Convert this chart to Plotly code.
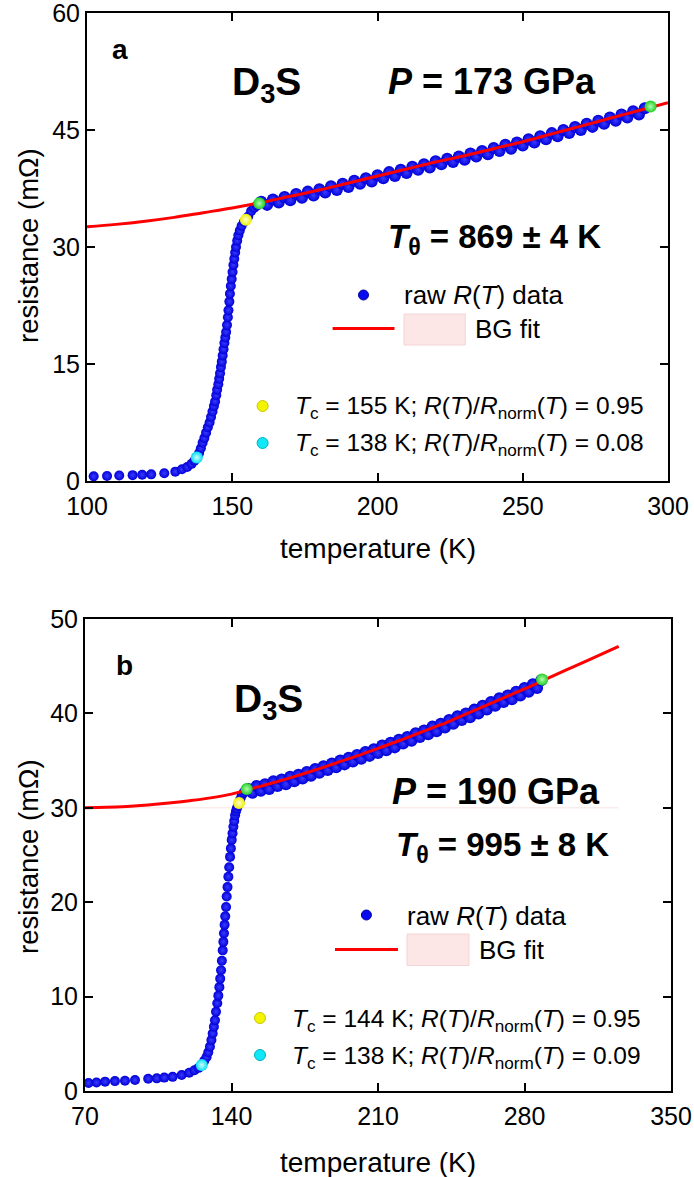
import plotly.graph_objects as go

W, H = 694, 1177
FONT = "Liberation Sans, Arial, sans-serif"

# ---------------- Panel a data (P = 173 GPa) ----------------
# low-temperature tail and superconducting transition
a_T = [102.3, 106.9, 111.1, 115.7, 119.0, 122.1, 126.6, 130.4, 132.7, 134.5, 136.0, 137.0,
       138.6, 139.2, 139.8, 140.4, 141.0, 141.6, 142.2, 142.7, 143.2, 143.7, 144.1, 144.5,
       144.8, 145.2, 145.5, 145.8, 146.1, 146.4, 146.7, 147.0, 147.3, 147.6, 147.9, 148.2,
       148.5, 148.7, 149.0, 149.2, 149.5, 149.8, 150.1, 150.4, 150.7, 151.0, 151.3, 151.7,
       152.1, 152.6, 153.2, 154.0, 155.5, 156.5, 157.5, 158.5]
a_R = [0.6, 0.65, 0.7, 0.75, 0.8, 0.85, 1.0, 1.2, 1.5, 1.8, 2.2, 2.6,
       3.6, 4.2, 4.9, 5.5, 6.2, 6.9, 7.5, 8.2, 8.9, 9.6, 10.2, 11.0,
       11.7, 12.4, 13.1, 13.8, 14.6, 15.3, 16.1, 16.9, 17.7, 18.4, 19.1, 20.0,
       21.0, 21.9, 23.0, 24.0, 25.0, 25.9, 26.8, 27.7, 28.5, 29.3, 30.0, 30.8,
       31.5, 32.1, 32.7, 33.2, 33.9, 34.6, 35.0, 35.3]
# normal state
a_norm_T = [160, 162, 164, 166, 168, 170, 172, 174, 176, 178, 180, 182, 184, 186, 188, 190,
            192, 194, 196, 198, 200, 202, 204, 206, 208, 210, 212, 214, 216, 218, 220, 222,
            224, 226, 228, 230, 232, 234, 236, 238, 240, 242, 244, 246, 248, 250, 252, 254,
            256, 258, 260, 262, 264, 266, 268, 270, 272, 274, 276, 278, 280, 282, 284, 286,
            288, 290, 292]
a_norm_R = [35.8, 35.4, 36.1, 35.7, 36.4, 36.0, 36.8, 36.3, 37.1, 36.6, 37.4, 37.0, 37.8, 37.3,
            38.1, 37.7, 38.5, 38.1, 38.8, 38.4, 39.2, 38.8, 39.6, 39.1, 39.9, 39.5, 40.3, 39.9,
            40.6, 40.2, 41.0, 40.6, 41.3, 40.9, 41.6, 41.2, 42.0, 41.6, 42.3, 41.9, 42.7, 42.3,
            43.1, 42.6, 43.4, 43.0, 43.8, 43.4, 44.2, 43.8, 44.6, 44.2, 45.0, 44.6, 45.4, 45.0,
            45.8, 45.4, 46.2, 45.8, 46.6, 46.2, 47.0, 46.6, 47.4, 47.0, 47.8]
a_fit_T = [100, 110, 120, 130, 140, 150, 160, 170, 180, 190, 200, 210, 220, 230, 240, 250,
           260, 270, 280, 290, 300]
a_fit_R = [32.6, 32.9, 33.3, 33.8, 34.4, 35.0, 35.7, 36.5, 37.3, 38.2, 39.1, 40.0, 40.9, 41.7,
           42.6, 43.5, 44.5, 45.5, 46.5, 47.5, 48.5]
a_green_T, a_green_R = [159.3, 294.0], [35.6, 48.0]
a_yellow_T, a_yellow_R = [154.7], [33.5]
a_cyan_T, a_cyan_R = [137.8], [3.0]

# ---------------- Panel b data (P = 190 GPa) ----------------
b_T = [71.7, 75.5, 79.6, 84.3, 89.1, 93.9, 100.2, 104.3, 107.9, 111.9, 116.2, 119.8, 122.3, 124.3,
       127.0, 128.1, 128.9, 129.7, 130.4, 131.0, 131.6, 132.1, 132.6, 133.2, 133.7, 134.2, 134.6,
       135.0, 135.4, 135.8, 136.1, 136.4, 136.7, 137.0, 137.4, 137.7, 138.1, 138.5, 138.9, 139.3,
       139.7, 140.1, 140.5, 140.9, 141.3, 141.7, 142.1, 142.5, 143.0, 144.2, 144.9, 145.8, 146.5]
b_R = [0.85, 0.9, 0.99, 1.05, 1.09, 1.17, 1.3, 1.34, 1.42, 1.5, 1.69, 1.94, 2.2, 2.45,
       3.2, 3.6, 4.1, 4.7, 5.4, 6.1, 6.8, 7.5, 8.4, 9.3, 10.1, 11.0, 11.9,
       12.8, 13.8, 14.9, 15.8, 16.7, 17.6, 18.5, 19.5, 20.6, 21.6, 22.7, 23.7, 24.8,
       25.7, 26.6, 27.3, 28.0, 28.6, 29.2, 29.6, 29.9, 30.2, 30.9, 31.3, 31.6, 31.8]
b_norm_T = [148, 150, 152, 154, 156, 158, 160, 162, 164, 166, 168, 170, 172, 174, 176, 178,
            180, 182, 184, 186, 188, 190, 192, 194, 196, 198, 200, 202, 204, 206, 208, 210,
            212, 214, 216, 218, 220, 222, 224, 226, 228, 230, 232, 234, 236, 238, 240, 242,
            244, 246, 248, 250, 252, 254, 256, 258, 260, 262, 264, 266, 268, 270, 272, 274,
            276, 278, 280, 282, 284, 286, 288]
b_norm_R = [32.0, 31.6, 32.3, 31.8, 32.5, 32.0, 32.8, 32.3, 33.0, 32.5, 33.3, 32.8, 33.5, 33.1,
            33.8, 33.4, 34.1, 33.7, 34.4, 34.0, 34.7, 34.3, 35.0, 34.6, 35.3, 34.9, 35.6, 35.2,
            35.9, 35.5, 36.2, 35.8, 36.6, 36.1, 36.9, 36.4, 37.2, 36.8, 37.5, 37.1, 37.9, 37.5,
            38.2, 37.8, 38.6, 38.1, 38.9, 38.5, 39.3, 38.9, 39.7, 39.3, 40.0, 39.6, 40.4, 40.0,
            40.8, 40.4, 41.2, 40.8, 41.6, 41.2, 41.9, 41.5, 42.3, 41.9, 42.7, 42.3, 43.1, 42.7,
            43.5]
b_fit_T = [70, 80, 90, 100, 110, 120, 130, 140, 150, 160, 170, 180, 190, 200, 210, 220, 230,
           240, 250, 260, 270, 280, 290, 300, 310, 325]
b_fit_R = [30.0, 30.05, 30.15, 30.3, 30.5, 30.75, 31.05, 31.45, 32.05, 32.65, 33.3, 34.0, 34.75,
           35.5, 36.3, 37.1, 37.95, 38.8, 39.75, 40.7, 41.65, 42.6, 43.6, 44.6, 45.6, 47.1]
b_band_T, b_band_R = [70, 325], [30.0, 30.0]
b_green_T, b_green_R = [147.3, 288.4], [32.0, 43.6]
b_yellow_T, b_yellow_R = [143.6], [30.5]
b_cyan_T, b_cyan_R = [125.8], [2.75]

a_xticks = [100, 150, 200, 250, 300]
a_yticks = [0, 15, 30, 45, 60]
b_xticks = [70, 140, 210, 280, 350]
b_yticks = [0, 10, 20, 30, 40, 50]

BLUE = "#0000d8"
BLUE_C = "#3a3aff"
RED = "#ff0000"


def dots(x, y, color, center, size, xa, ya):
    return go.Scatter(x=x, y=y, mode="markers", xaxis=xa, yaxis=ya, showlegend=False,
                      marker=dict(size=size, color=color,
                                  gradient=dict(type="radial", color=center),
                                  line=dict(width=0)))


fig = go.Figure()
panels = [
    (a_T, a_R, a_norm_T, a_norm_R, a_fit_T, a_fit_R, a_green_T, a_green_R,
     a_yellow_T, a_yellow_R, a_cyan_T, a_cyan_R, "x", "y"),
    (b_T, b_R, b_norm_T, b_norm_R, b_fit_T, b_fit_R, b_green_T, b_green_R,
     b_yellow_T, b_yellow_R, b_cyan_T, b_cyan_R, "x2", "y2"),
]
for (T, R, nT, nR, fT, fR, gT, gR, yT, yR, cT, cR, xa, ya) in panels:
    if xa == "x2":
        fig.add_trace(go.Scatter(x=b_band_T, y=b_band_R, mode="lines", xaxis=xa, yaxis=ya,
                                 showlegend=False, line=dict(color="#fbe3e3", width=1)))
    fig.add_trace(dots(nT, nR, BLUE, BLUE_C, 12, xa, ya))
    fig.add_trace(dots(T, R, BLUE, BLUE_C, 10, xa, ya))
    fig.add_trace(go.Scatter(x=fT, y=fR, mode="lines", xaxis=xa, yaxis=ya, showlegend=False,
                             line=dict(color=RED, width=3, shape="spline")))
    fig.add_trace(dots(gT, gR, "#22cc22", "#b0ffb0", 12, xa, ya))
    fig.add_trace(dots(yT, yR, "#eeee00", "#ffffd0", 12, xa, ya))
    fig.add_trace(dots(cT, cR, "#00dcf0", "#d0ffff", 12, xa, ya))


def px(x):
    return x / W


def py(y):
    return 1 - y / H


axis_common = dict(showline=True, linecolor="black", linewidth=2, mirror="ticks",
                   ticks="inside", ticklen=8, tickwidth=2, tickcolor="black",
                   showgrid=False, zeroline=False, automargin=False,
                   ticklabeloverflow="allow",
                   tickfont=dict(family=FONT, size=25, color="black"))

fig.update_layout(
    width=W, height=H, margin=dict(l=0, r=0, t=0, b=0, pad=0, autoexpand=False),
    paper_bgcolor="white", plot_bgcolor="white", showlegend=False,
    xaxis=dict(domain=[px(87), px(668)], range=[100, 300], tickvals=a_xticks,
               anchor="y", ticklabelstandoff=2, **axis_common),
    yaxis=dict(domain=[py(481), py(13)], range=[0, 60], tickvals=a_yticks,
               anchor="x", **axis_common),
    xaxis2=dict(domain=[px(85), px(671)], range=[70, 350], tickvals=b_xticks,
                anchor="y2", ticklabelstandoff=2, **axis_common),
    yaxis2=dict(domain=[py(1091), py(619)], range=[0, 50], tickvals=b_yticks,
                anchor="x2", **axis_common),
)


def ann(text, x, y, size, xanchor="left", angle=0):
    return dict(text=text, x=px(x), y=py(y), xref="paper", yref="paper",
                xanchor=xanchor, yanchor="middle", showarrow=False, textangle=angle,
                font=dict(family=FONT, size=size, color="black"))


tc_a1 = "<i>T</i><sub>c</sub> = 155 K; <i>R</i>(<i>T</i>)/<i>R</i><sub>norm</sub>(<i>T</i>) = 0.95"
tc_a2 = "<i>T</i><sub>c</sub> = 138 K; <i>R</i>(<i>T</i>)/<i>R</i><sub>norm</sub>(<i>T</i>) = 0.08"
tc_b1 = "<i>T</i><sub>c</sub> = 144 K; <i>R</i>(<i>T</i>)/<i>R</i><sub>norm</sub>(<i>T</i>) = 0.95"
tc_b2 = "<i>T</i><sub>c</sub> = 138 K; <i>R</i>(<i>T</i>)/<i>R</i><sub>norm</sub>(<i>T</i>) = 0.09"

annotations = [
    # panel a
    ann("<b>a</b>", 120, 49, 28, "center"),
    ann("<b>D<sub>3</sub>S</b>", 230, 84, 39),
    ann("<b><i>P</i> = 173 GPa</b>", 386, 81.5, 36),
    ann("<b><i>T</i><sub>θ</sub> = 869 ± 4 K</b>", 386, 239, 33),
    ann("raw <i>R</i>(<i>T</i>) data", 402, 295, 26),
    ann("BG fit", 473, 328.5, 26),
    ann(tc_a1, 293, 408, 24.5),
    ann(tc_a2, 293, 445, 24.5),
    ann("temperature (K)", 378, 548, 28, "center"),
    ann("resistance (mΩ)", 28, 246, 27.5, "center", -90),
    # panel b
    ann("<b>b</b>", 124.5, 665, 28, "center"),
    ann("<b>D<sub>3</sub>S</b>", 232, 701, 39),
    ann("<b><i>P</i> = 190 GPa</b>", 390, 791, 36),
    ann("<b><i>T</i><sub>θ</sub> = 995 ± 8 K</b>", 394, 847, 33),
    ann("raw <i>R</i>(<i>T</i>) data", 405, 916, 26),
    ann("BG fit", 477, 949.5, 26),
    ann(tc_b1, 290, 1020, 24.5),
    ann(tc_b2, 290, 1057, 24.5),
    ann("temperature (K)", 378, 1162, 28, "center"),
    ann("resistance (mΩ)", 28, 857, 27.5, "center", -90),
]


def circle(cx, cy, d, fill, edge):
    r = d / 2
    return dict(type="circle", xref="paper", yref="paper", x0=px(cx - r), x1=px(cx + r),
                y0=py(cy + r), y1=py(cy - r), fillcolor=fill, line=dict(color=edge, width=1))


shapes = [
    # legend a
    circle(363.5, 295, 10, "#0a0aee", "#0000a0"),
    dict(type="line", xref="paper", yref="paper", x0=px(332.6), x1=px(394.5),
         y0=py(328.5), y1=py(328.5), line=dict(color=RED, width=3)),
    dict(type="rect", xref="paper", yref="paper", x0=px(404), x1=px(465.3),
         y0=py(345), y1=py(314), fillcolor="#fde6e6", line=dict(color="#f2d6d6", width=1)),
    circle(262.6, 406, 11, "#f4f400", "#c8c800"),
    circle(262.6, 443, 11, "#10e8f8", "#00b0c0"),
    # legend b
    circle(366.4, 915, 10, "#0a0aee", "#0000a0"),
    dict(type="line", xref="paper", yref="paper", x0=px(335), x1=px(398),
         y0=py(949.5), y1=py(949.5), line=dict(color=RED, width=3)),
    dict(type="rect", xref="paper", yref="paper", x0=px(407), x1=px(469),
         y0=py(965.5), y1=py(934), fillcolor="#fde6e6", line=dict(color="#f2d6d6", width=1)),
    circle(260, 1018, 11, "#f4f400", "#c8c800"),
    circle(260, 1055, 11, "#10e8f8", "#00b0c0"),
]

fig.update_layout(annotations=annotations, shapes=shapes)
fig.write_html("out.html")
